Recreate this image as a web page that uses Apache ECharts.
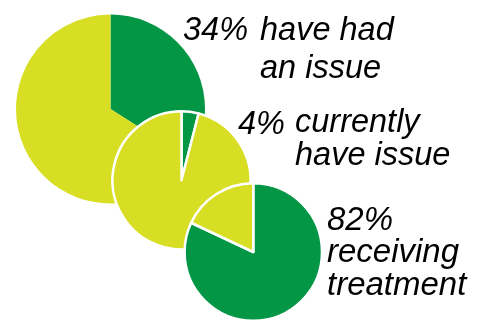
<!DOCTYPE html>
<html>
<head>
<meta charset="utf-8">
<script src="https://cdn.jsdelivr.net/npm/echarts@6/dist/echarts.min.js"></script>
<style>
  html, body { margin: 0; padding: 0; background: #fff; }
  #chart { width: 477px; height: 321px; }
</style>
</head>
<body>
<div id="chart"></div>
<script>
// Share of people at each stage (percent)
const stages = ['had', 'current', 'treated'];
const shares = [34, 4, 82];
const captions = [
  ['have had', 'an issue'],
  ['currently', 'have issue'],
  ['receiving', 'treatment']
];

const DARK = '#039645';
const LIGHT = '#D8DE23';

// Pie geometry: one pie per stage, each overlapping the previous one
const pieLayout = [
  { center: [110.5, 109], radius: 94.5, border: 0 },
  { center: [181.5, 180.3], radius: 69, border: 2.5 },
  { center: [253.3, 252], radius: 68.7, border: 2.5 }
];

const series = shares.map((v, i) => ({
  type: 'pie',
  name: stages[i],
  center: pieLayout[i].center,
  radius: pieLayout[i].radius,
  startAngle: 90,
  clockwise: true,
  silent: true,
  animation: false,
  label: { show: false },
  labelLine: { show: false },
  itemStyle: {
    borderColor: '#fff',
    borderWidth: pieLayout[i].border
  },
  data: [
    { value: v, name: 'yes', itemStyle: { color: DARK } },
    { value: 100 - v, name: 'no', itemStyle: { color: LIGHT } }
  ]
}));

// Caption placement: percent x/baseline, caption x/baselines, font size
const textLayout = [
  { px: 183, py: 40, cx: 260, cy: [40, 78], size: 32.5 },
  { px: 238, py: 134, cx: 295, cy: [132, 165], size: 32.5 },
  { px: 327, py: 230, cx: 327, cy: [262, 295], size: 33 }
];

function textStyle(text, size) {
  return {
    text: text,
    fontFamily: 'Liberation Sans',
    fontStyle: 'italic',
    fontSize: size,
    fill: '#000',
    align: 'left',
    verticalAlign: 'middle'
  };
}

const graphics = [];
shares.forEach((v, i) => {
  const t = textLayout[i];
  // Shift from the line's vertical middle to its baseline
  const base = 0.28 * t.size;
  graphics.push({
    type: 'text', silent: true,
    x: t.px, y: t.py - base,
    style: textStyle(v + '%', t.size)
  });
  captions[i].forEach((line, j) => {
    graphics.push({
      type: 'text', silent: true,
      x: t.cx, y: t.cy[j] - base,
      style: textStyle(line, t.size)
    });
  });
});

const chart = echarts.init(document.getElementById('chart'), null, { renderer: 'canvas' });
chart.setOption({
  animation: false,
  backgroundColor: '#fff',
  series: series,
  graphic: graphics
});
</script>
</body>
</html>
